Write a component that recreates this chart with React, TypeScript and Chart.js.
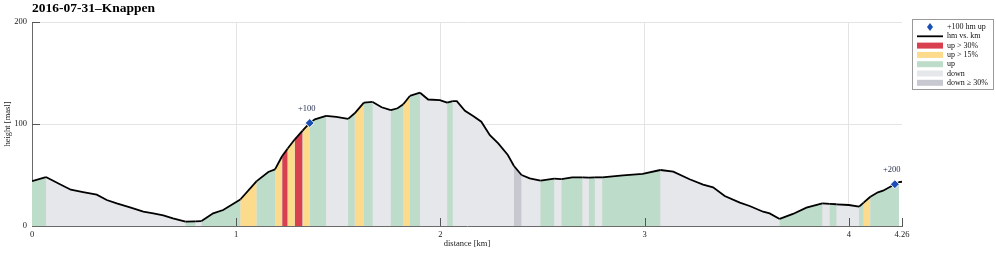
import { useEffect, useRef } from 'react';
import { Chart, registerables } from 'chart.js';

Chart.register(...registerables);

// ---- data ----
const distanceKm = [
  0.0, 0.068, 0.137, 0.19, 0.25, 0.317, 0.366, 0.415, 0.48, 0.545, 0.594, 0.643, 0.69, 0.752, 0.8, 0.83,
  0.887, 0.936, 1.02, 1.1, 1.157, 1.19, 1.225, 1.252, 1.287, 1.325, 1.36, 1.385, 1.44, 1.49, 1.548, 1.58,
  1.625, 1.668, 1.712, 1.757, 1.79, 1.818, 1.85, 1.9, 1.94, 1.997, 2.033, 2.06, 2.08, 2.12, 2.16, 2.2,
  2.242, 2.283, 2.33, 2.36, 2.397, 2.437, 2.49, 2.557, 2.593, 2.645, 2.695, 2.727, 2.756, 2.792, 2.894, 2.99,
  3.077, 3.14, 3.22, 3.286, 3.335, 3.392, 3.466, 3.514, 3.58, 3.612, 3.661, 3.726, 3.792, 3.87, 3.906, 3.939,
  4.0, 4.05, 4.072, 4.105, 4.142, 4.167, 4.225, 4.245, 4.26,
];
const heightM = [
  44, 48, 41, 35.6, 33.3, 30.7, 25.5, 22.2, 18.3, 14, 12.4, 10.5, 7.5, 4.2, 4.6, 4.8,
  12.4, 15.7, 26, 44, 53, 55.5, 68.6, 76, 85, 93.5, 101, 104.6, 108, 107, 105, 110.5,
  121, 121.6, 116.4, 113.7, 115.4, 119.3, 127.5, 130.7, 124, 123.5, 121, 122.5, 122.5, 113, 107.8, 102.3,
  89, 81, 69.6, 58.8, 50, 46.7, 44.4, 46.4, 46, 47.7, 47.7, 47.4, 47.7, 47.7, 49.7, 51,
  54.9, 53.3, 45.8, 40.5, 37.9, 29.4, 22.9, 19.6, 14, 12.4, 6.9, 11.8, 18, 22.2, 21.6, 21.3,
  20.6, 19, 22.9, 28.7, 33, 34.6, 41, 43, 43.4,
];
// grade class of the segment starting at each point: U up, Y up>15%, R up>30%, D down, S down>=30%, N none
const gradeClass = [
  'U', 'D', 'D', 'D', 'D', 'D', 'D', 'D', 'D', 'D', 'D', 'D', 'D', 'U', 'D', 'U',
  'U', 'U', 'Y', 'U', 'U', 'Y', 'R', 'Y', 'R', 'Y', 'U', 'U', 'D', 'D', 'U', 'Y',
  'U', 'D', 'D', 'U', 'U', 'Y', 'U', 'D', 'D', 'D', 'U', 'D', 'D', 'D', 'D', 'D',
  'D', 'D', 'D', 'S', 'D', 'D', 'U', 'D', 'U', 'U', 'D', 'U', 'D', 'U', 'U', 'U',
  'D', 'D', 'D', 'D', 'D', 'D', 'D', 'D', 'D', 'D', 'U', 'U', 'U', 'D', 'U', 'D',
  'D', 'U', 'Y', 'U', 'U', 'U', 'U', 'N', 'N',
];
const markerKm = [1.36, 4.225];
const markerHeight = [101, 41];
const markerLabels = ['+100', '+200'];
const xTickValues = [0, 1, 2, 3, 4, 4.26];
const yTickValues = [0, 100, 200];
const legendLabels = ['+100 hm up', 'hm vs. km', 'up > 30%', 'up > 15%', 'up', 'down', 'down \u2265 30%'];
const legendKeys = ['marker', 'line', 'R', 'Y', 'U', 'D', 'S'];
const titleText = '2016-07-31\u2013Knappen';

const classColor: Record<string, string> = {
  U: '#bddcc9',
  Y: '#fddb8c',
  R: '#d9404f',
  D: '#e6e7eb',
  S: '#c7c8d0',
  N: 'rgba(255,255,255,0)',
};
const FONT = '"Liberation Serif", "DejaVu Serif", serif';
const MARKER_BLUE = '#1a4fb5';

const overlayPlugin = {
  id: 'overlay',
  afterDraw(chart: any) {
    const { ctx, chartArea, scales } = chart;
    const xs = scales.x;
    const ys = scales.y;
    ctx.save();
    // inward tick marks
    ctx.strokeStyle = '#555';
    ctx.lineWidth = 1;
    xTickValues.forEach((v) => {
      if (v === 0) return;
      const px = Math.round(xs.getPixelForValue(v)) + 0.5;
      ctx.beginPath();
      ctx.moveTo(px, chartArea.bottom);
      ctx.lineTo(px, chartArea.bottom - 8);
      ctx.stroke();
    });
    yTickValues.forEach((v) => {
      if (v === 0) return;
      const py = Math.round(ys.getPixelForValue(v)) + 0.5;
      ctx.beginPath();
      ctx.moveTo(chartArea.left, py);
      ctx.lineTo(chartArea.left + 8, py);
      ctx.stroke();
    });
    // marker labels
    ctx.fillStyle = '#2b3355';
    ctx.font = `8.5px ${FONT}`;
    ctx.textAlign = 'center';
    ctx.textBaseline = 'middle';
    markerKm.forEach((d, i) => {
      const px = xs.getPixelForValue(d);
      const py = ys.getPixelForValue(markerHeight[i]);
      ctx.fillText(markerLabels[i], px - 3, py - 14);
    });
    // title
    ctx.fillStyle = '#000';
    ctx.font = `bold 13.5px ${FONT}`;
    ctx.textAlign = 'left';
    ctx.textBaseline = 'middle';
    ctx.fillText(titleText, chartArea.left, 9);
    // axis titles
    ctx.font = `8.5px ${FONT}`;
    ctx.fillStyle = '#222';
    ctx.textAlign = 'center';
    ctx.fillText('distance [km]', (chartArea.left + chartArea.right) / 2, 244);
    ctx.save();
    ctx.translate(8, (chartArea.top + chartArea.bottom) / 2);
    ctx.rotate(-Math.PI / 2);
    ctx.fillText('height [masl]', 0, 0);
    ctx.restore();
    // legend
    const bx = 912.5, by = 19.5, bw = 81, bh = 70;
    ctx.fillStyle = '#fff';
    ctx.fillRect(bx, by, bw, bh);
    ctx.strokeStyle = '#9a9a9a';
    ctx.lineWidth = 1;
    ctx.strokeRect(bx, by, bw, bh);
    const sx0 = 917, sx1 = 943;
    legendKeys.forEach((k, i) => {
      const cy = 27 + i * 9.3;
      if (k === 'marker') {
        const cx = (sx0 + sx1) / 2;
        ctx.fillStyle = MARKER_BLUE;
        ctx.beginPath();
        ctx.moveTo(cx, cy - 4);
        ctx.lineTo(cx + 3, cy);
        ctx.lineTo(cx, cy + 4);
        ctx.lineTo(cx - 3, cy);
        ctx.closePath();
        ctx.fill();
      } else if (k === 'line') {
        ctx.strokeStyle = '#000';
        ctx.lineWidth = 1.8;
        ctx.beginPath();
        ctx.moveTo(sx0, cy);
        ctx.lineTo(sx1, cy);
        ctx.stroke();
      } else {
        ctx.fillStyle = classColor[k];
        ctx.fillRect(sx0, cy - 3, sx1 - sx0, 6);
      }
      ctx.fillStyle = '#111';
      ctx.font = `8px ${FONT}`;
      ctx.textAlign = 'left';
      ctx.textBaseline = 'middle';
      ctx.fillText(legendLabels[i], 947, cy);
    });
    ctx.restore();
  },
};

export default function App() {
  const ref = useRef<HTMLCanvasElement | null>(null);
  useEffect(() => {
    if (!ref.current) return;
    const profile = distanceKm.map((d, i) => ({ x: d, y: heightM[i] }));
    const lastFilled = gradeClass.indexOf('N');
    const underlay = profile.slice(0, lastFilled + 1);
    const markers = markerKm.map((d, i) => ({ x: d, y: markerHeight[i] }));
    const chart = new Chart(ref.current, {
      type: 'line',
      data: {
        datasets: [
          {
            type: 'scatter',
            label: 'marker',
            data: markers,
            pointStyle: 'rectRot',
            pointRadius: 4.5,
            pointBackgroundColor: MARKER_BLUE,
            pointBorderColor: '#ffffff',
            pointBorderWidth: 1,
            showLine: false,
            order: 0,
          } as any,
          {
            label: 'hm vs. km',
            data: profile,
            borderColor: '#000',
            borderWidth: 1.8,
            pointRadius: 0,
            tension: 0,
            fill: 'origin',
            backgroundColor: classColor.D,
            segment: {
              backgroundColor: (c: any) => classColor[gradeClass[c.p0DataIndex]],
            },
            order: 1,
          } as any,
          {
            label: 'underlay',
            data: underlay,
            borderWidth: 0,
            borderColor: 'rgba(0,0,0,0)',
            pointRadius: 0,
            tension: 0,
            fill: 'origin',
            backgroundColor: '#d6e0da',
            order: 2,
          } as any,
        ],
      },
      options: {
        animation: false,
        responsive: false,
        maintainAspectRatio: false,
        layout: { padding: { top: 22, right: 94, left: 0, bottom: 0 } },
        plugins: {
          legend: { display: false },
          tooltip: { enabled: false },
          title: { display: false },
        },
        scales: {
          x: {
            type: 'linear',
            min: 0,
            max: 4.26,
            afterBuildTicks: (s: any) => {
              s.ticks = xTickValues.map((v) => ({ value: v }));
            },
            afterFit: (s: any) => {
              s.height = 27;
            },
            ticks: {
              autoSkip: false,
              maxRotation: 0,
              padding: 4,
              color: '#222',
              font: { family: FONT, size: 8.5 },
              callback: (v: any) => String(v),
            },
            grid: {
              drawTicks: false,
              color: (c: any) => (c.tick && (c.tick.value === 0 || c.tick.value === 4.26) ? 'rgba(0,0,0,0)' : '#e4e4e4'),
              lineWidth: 1,
            },
            border: { color: '#6a6a6a', width: 1 },
          },
          y: {
            type: 'linear',
            min: 0,
            max: 200,
            afterBuildTicks: (s: any) => {
              s.ticks = yTickValues.map((v) => ({ value: v }));
            },
            afterFit: (s: any) => {
              s.width = 32;
            },
            ticks: {
              padding: 5,
              color: '#222',
              font: { family: FONT, size: 8.5 },
              callback: (v: any) => String(v),
            },
            grid: {
              drawTicks: false,
              color: (c: any) => (c.tick && c.tick.value === 0 ? 'rgba(0,0,0,0)' : '#e4e4e4'),
              lineWidth: 1,
            },
            border: { color: '#6a6a6a', width: 1 },
          },
        },
      },
      plugins: [overlayPlugin],
    });
    return () => chart.destroy();
  }, []);
  return (
    <div style={{ position: 'absolute', left: 0, top: 0, width: 996, height: 253, background: '#fff' }}>
      <canvas ref={ref} width={996} height={253} style={{ width: 996, height: 253, display: 'block' }} />
    </div>
  );
}
